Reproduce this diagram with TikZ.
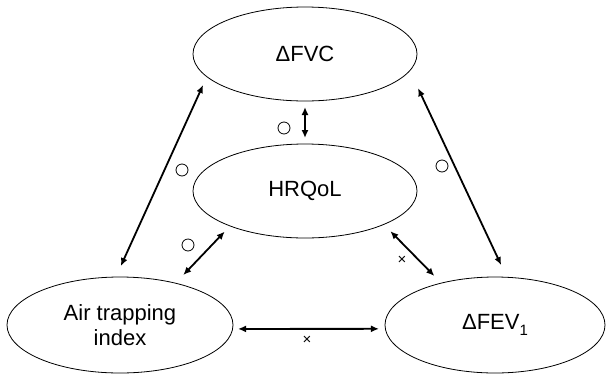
\documentclass[tikz,border=0pt]{standalone}
\usepackage{fontspec}
\setmainfont{Liberation Sans}
\usetikzlibrary{shapes.geometric,arrows.meta}
\begin{document}
\begin{tikzpicture}[x=1pt,y=-1pt,
  var/.style={ellipse,draw,line width=0.8pt,minimum width=224pt,minimum height=94pt,
    inner sep=0pt,outer sep=0pt,align=center,font=\fontsize{22}{25}\selectfont},
  link/.style={line width=1.8pt,{Latex[length=8pt,width=7pt]}-{Latex[length=8pt,width=7pt]}},
  circ/.style={circle,draw,line width=0.8pt,minimum size=12pt,inner sep=0pt},
  crs/.style={inner sep=0pt,font=\fontsize{15}{15}\selectfont}]
\useasboundingbox (0,0) rectangle (608,373);
\node[var] (fvc) at (305,54) {ΔFVC};
\node[var] (hrq) at (305,191) {HRQoL};
\node[var,minimum width=226pt,minimum height=96pt] (air) at (120,325) {Air trapping\\index};
\node[var,minimum width=220pt,minimum height=96pt] (fev) at (495,325) {ΔFEV\raisebox{-0.25em}{\fontsize{15}{15}\selectfont 1}};
\draw[link,shorten <=9.2pt,shorten >=12.1pt] (fvc.193) -- (air.95);
\draw[link,shorten <=19.4pt,shorten >=13.5pt] (fvc.351.7) -- (fev.76.3);
\draw[link,shorten <=6pt,shorten >=6pt] (fvc.south) -- (hrq.north);
\draw[link,shorten <=7.8pt,shorten >=11.3pt] (hrq.205.8) -- (air.37.4);
\draw[link,shorten <=9.5pt,shorten >=10pt] (hrq.337.4) -- (fev.142.3);
\draw[link,shorten <=5.4pt,shorten >=6.4pt] (air.358) -- (fev.182);
\node[circ] (c1) at (284,128) {};
\node[circ] (c2) at (182,170) {};
\node[circ] (c3) at (442,166) {};
\node[circ] (c4) at (188,245) {};
\node[crs] (x1) at (402,260) {×};
\node[crs] (x2) at (307,340) {×};
\end{tikzpicture}
\end{document}
